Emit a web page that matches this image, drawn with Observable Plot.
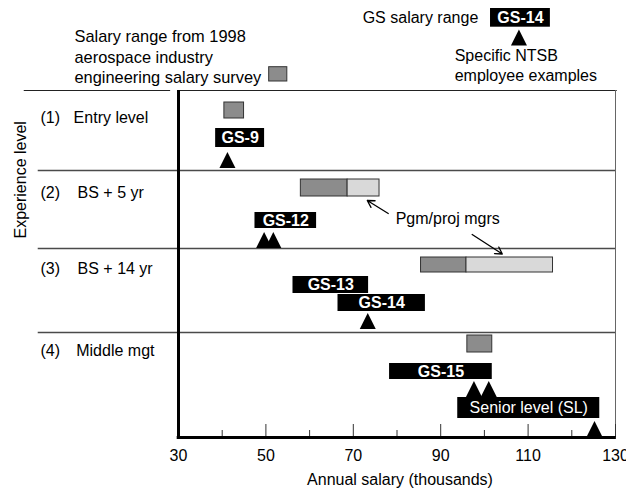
<!DOCTYPE html>
<html><head><meta charset="utf-8">
<script src="https://cdn.jsdelivr.net/npm/d3@7"></script>
<script src="https://cdn.jsdelivr.net/npm/@observablehq/plot@0.6"></script>
<style>body{margin:0;background:#fff} #chart svg{display:block}</style>
</head><body><div id="chart"></div>
<script>
// ---------- data ----------
const rowNums = ["(1)", "(2)", "(3)", "(4)"];
const rows = ["Entry level", "BS + 5 yr", "BS + 14 yr", "Middle mgt"];
const surveyLow = [40.5, 58.0, 85.5, 96.1];
const surveyHigh = [45.0, 68.7, 95.9, 101.8];
const mgrLow = [null, 68.7, 95.9, null];
const mgrHigh = [null, 76.0, 115.7, null];
const gsGrades = ["GS-9", "GS-12", "GS-13", "GS-14", "GS-15", "Senior level (SL)"];
const gsRow = [0, 1, 2, 2, 3, 3];
const gsLow = [38.5, 47.5, 56.2, 66.5, 78.3, 93.9];
const gsHigh = [49.7, 61.6, 73.5, 86.5, 101.8, 126.4];
const empRow = [0, 1, 1, 2, 3, 3, 3];
const empSalary = [41.2, 49.6, 51.7, 73.3, 97.6, 101.0, 125.2];
const majorTicks = [30, 50, 70, 90, 110, 130];
const minorTicks = [40, 60, 80, 100, 120];

// ---------- layout (vertical lanes, in frame units from top) ----------
const rowBounds = [0, 80, 158, 242, 347];
const rowLabelY = [27, 102, 178, 260];
const rowNameX = [6.0, 6.9, 6.9, 6.6];
const surveyY = [[12, 28], [89, 106], [167, 182], [245, 262]];
const gsY = [[38, 57], [122, 138], [186, 203], [204, 221], [273, 289], [307, 328]];
const empY = [[62, 77], [142, 157], [142, 157], [222, 239], [291, 306], [291, 306], [330, 347]];

const FONT = "Liberation Sans, Arial, Helvetica, sans-serif";
const FS = 16;
const DARK = "#8c8c8c", LIGHT = "#d9d9d9";

const survey = rows.map((r, i) => ({x1: surveyLow[i], x2: surveyHigh[i], y1: surveyY[i][0], y2: surveyY[i][1]}));
const mgr = rows.map((r, i) => ({x1: mgrLow[i], x2: mgrHigh[i], y1: surveyY[i][0], y2: surveyY[i][1]})).filter(d => d.x1 != null);
const gs = gsGrades.map((g, i) => ({label: g, row: gsRow[i], x1: gsLow[i], x2: gsHigh[i], y1: gsY[i][0], y2: gsY[i][1]}));
const emp = empSalary.map((s, i) => ({x: s, row: empRow[i], y: (empY[i][0] + empY[i][1]) / 2}));
const rowLab = rows.map((r, i) => ({num: rowNums[i], name: r, y: rowLabelY[i], nx: rowNameX[i]}));

const tri = {draw(ctx) { const w = 16, h = 16; ctx.moveTo(0, -h / 2); ctx.lineTo(w / 2, h / 2); ctx.lineTo(-w / 2, h / 2); ctx.closePath(); }};

const legend = [{label: "Salary range from 1998\naerospace industry\nengineering salary survey", x: 6.2, y: -34.5}];

const gsText = {x: d => (d.x1 + d.x2) / 2, y: d => (d.y1 + d.y2) / 2, text: "label", fill: "#fff", fontSize: FS};

const chart = Plot.plot({
  width: 626, height: 488,
  marginLeft: 178, marginRight: 11, marginTop: 90, marginBottom: 51,
  style: {fontFamily: FONT, background: "#fff", color: "#000"},
  x: {domain: [30, 130], range: [178, 615]},
  y: {domain: [0, 347], range: [90, 437], axis: null},
  marks: [
    // grid / frame
    Plot.ruleY(rowBounds.slice(1, 4), {x1: -2.1, x2: 130, stroke: "#4a4a4a", strokeWidth: 1.5}),
    Plot.ruleY([0], {x1: -5.3, x2: 28.2, stroke: "#222", strokeWidth: 1.2}),
    Plot.ruleY([0], {x1: 30, x2: 130.4, stroke: "#222", strokeWidth: 1.2}),
    Plot.ruleX([130], {y1: 0, y2: 347, stroke: "#666", strokeWidth: 1}),
    Plot.ruleX(majorTicks, {y1: 334, y2: 347, stroke: "#333", strokeWidth: 1}),
    Plot.ruleX(minorTicks, {y1: 340, y2: 347, stroke: "#333", strokeWidth: 1}),
    Plot.ruleX([30], {y1: 0, y2: 348.5, stroke: "#000", strokeWidth: 3}),
    Plot.ruleY([347], {x1: 29.7, x2: 130.2, stroke: "#000", strokeWidth: 3}),
    Plot.axisX(majorTicks, {tickSize: 0, tickPadding: 12, fontSize: FS, label: null}),
    Plot.text(["Annual salary (thousands)"], {frameAnchor: "bottom", dx: 3, dy: 42, fontSize: FS, lineAnchor: "middle"}),
    Plot.text(["Experience level"], {frameAnchor: "left", y: 148, dx: -158, rotate: -90, fontSize: FS}),
    // row labels
    Plot.text(rowLab, {x: -1.6, y: "y", text: "num", textAnchor: "start", fontSize: FS}),
    Plot.text(rowLab, {x: "nx", y: "y", text: "name", textAnchor: "start", fontSize: FS}),
    // industry survey boxes
    Plot.rect(survey, {x1: "x1", x2: "x2", y1: "y1", y2: "y2", fill: DARK, stroke: "#333", strokeWidth: 1}),
    Plot.rect(mgr, {x1: "x1", x2: "x2", y1: "y1", y2: "y2", fill: LIGHT, stroke: "#333", strokeWidth: 1}),
    // GS ranges
    Plot.rect(gs, {x1: "x1", x2: "x2", y1: "y1", y2: "y2", fill: "#000"}),
    Plot.text(gs.filter(d => d.label.startsWith("GS")), {...gsText, fontWeight: "bold"}),
    Plot.text(gs.filter(d => !d.label.startsWith("GS")), gsText),
    // employees
    Plot.dot(emp, {x: "x", y: "y", symbol: tri, fill: "#000", stroke: null}),
    // Pgm/proj mgrs annotation
    Plot.text(["Pgm/proj mgrs"], {x: 79.7, y: 128, textAnchor: "start", fontSize: FS}),
    Plot.arrow([{x1: 78.0, y1: 123, x2: 73.2, y2: 110}, {x1: 97.2, y1: 144, x2: 104.1, y2: 163.5}],
      {x1: "x1", y1: "y1", x2: "x2", y2: "y2", stroke: "#000", strokeWidth: 1.3, headLength: 9}),
    // legend (above frame)
    Plot.text(legend, {x: "x", y: "y", text: "label", textAnchor: "start", fontSize: 16.4, lineHeight: 1.25}),
    Plot.rect([{x1: 50.75, x2: 54.9, y1: -23.3, y2: -9}], {x1: "x1", x2: "x2", y1: "y1", y2: "y2", fill: DARK, stroke: "#333", strokeWidth: 1}),
    Plot.text(["GS salary range"], {x: 98.6, y: -72.5, textAnchor: "end", fontSize: FS}),
    Plot.rect([{x1: 101.4, x2: 115.1, y1: -82, y2: -63.3}], {x1: "x1", x2: "x2", y1: "y1", y2: "y2", fill: "#000"}),
    Plot.text(["GS-14"], {x: 108.25, y: -72.6, fill: "#fff", fontWeight: "bold", fontSize: FS}),
    Plot.dot([{x: 107.9, y: -53}], {x: "x", y: "y", symbol: tri, fill: "#000", stroke: null}),
    Plot.text(["Specific NTSB\nemployee examples"], {x: 93.2, y: -26, textAnchor: "start", fontSize: FS, lineHeight: 1.25})
  ]
});
document.getElementById("chart").appendChild(chart);
</script>
</body></html>
